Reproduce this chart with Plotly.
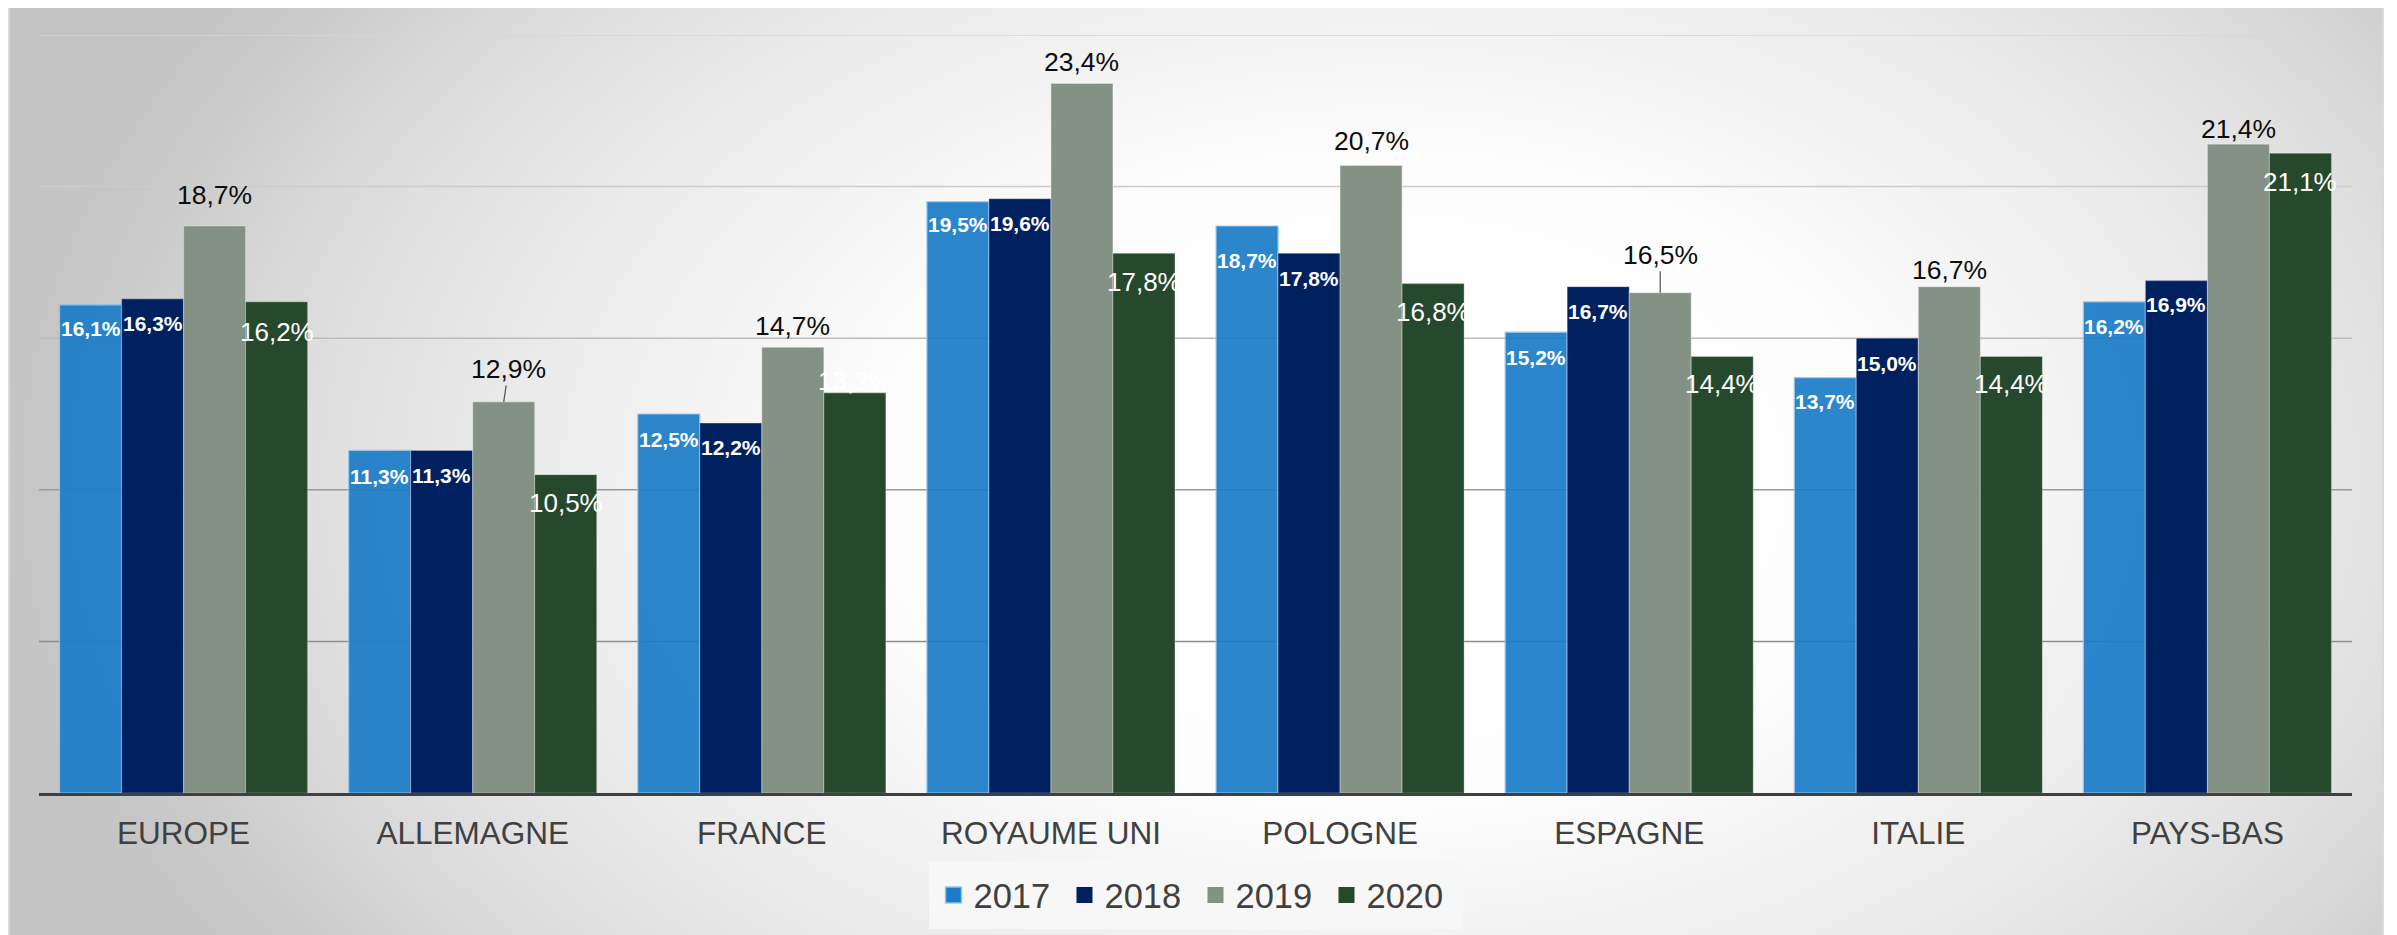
import base64
import plotly.graph_objects as go

# ---------------- data ----------------
categories = ["EUROPE", "ALLEMAGNE", "FRANCE", "ROYAUME UNI", "POLOGNE", "ESPAGNE", "ITALIE", "PAYS-BAS"]
series_names = ["2017", "2018", "2019", "2020"]
v2017 = [16.1, 11.3, 12.5, 19.5, 18.7, 15.2, 13.7, 16.2]
v2018 = [16.3, 11.3, 12.2, 19.6, 17.8, 16.7, 15.0, 16.9]
v2019 = [18.7, 12.9, 14.7, 23.4, 20.7, 16.5, 16.7, 21.4]
v2020 = [16.2, 10.5, 13.2, 17.8, 16.8, 14.4, 14.4, 21.1]
grid_values = [5, 10, 15, 20, 25]

# ---------------- styles ----------------
colors = ["#1a7cc8", "#00205f", "#839284", "#26482c"]
opacities = [0.92, 1, 1, 1]
edge_colors = ["rgba(150,195,235,0.95)", "rgba(255,255,255,0.25)",
               "rgba(255,255,255,0.3)", "rgba(255,255,255,0.25)"]
grid_colors = ["#8e8e8e", "#999999", "#bbbbbb", "#cccccc", "#d6d6d6"]
# label vertical offsets (px, + = above the bar top)
label_shift = [
    [-24, -26, -25, -23, -34, -25, -24, -25],
    [-25, -25, -24, -25, -25, -25, -25, -24],
    [31, 33, 21, 22, 24, 38, 17, 15],
    [-30, -28, 12, -29, -28, -28, -28, -29],
]
leader = [False, True, False, False, False, True, False, False]
leader_dx = [0, 5, 0, 0, 0, 0, 0, 0]
FONT = "Liberation Sans, Arial, sans-serif"

# page is offset by the browser's default 8px body margin
OFF = 8
PAGE_W, PAGE_H = 2397, 935
W, H = PAGE_W - OFF, PAGE_H - OFF
# plot area in page coordinates: x 39..2352, y 35..793
L, T = 39 - OFF, 35 - OFF
R, B = W - (2352 - OFF), H - (793 - OFF)
pw, ph = W - L - R, H - T - B
bargap = 0.142
bw = (1 - bargap) / 4

values = [v2017, v2018, v2019, v2020]
xs = list(range(len(categories)))

fig = go.Figure()
for k, name in enumerate(series_names):
    fig.add_trace(go.Bar(
        x=xs, y=values[k], name=name, showlegend=False,
        marker=dict(color=colors[k], opacity=opacities[k],
                    line=dict(color=edge_colors[k], width=1.2)),
        hoverinfo="skip",
    ))
# legend entries (square markers)
for k, name in enumerate(series_names):
    fig.add_trace(go.Scatter(
        x=[None], y=[None], name=name, mode="markers",
        marker=dict(symbol="square", size=17, color=colors[k],
                    line=dict(color=edge_colors[k] if k == 0 else colors[k], width=1.5 if k == 0 else 0)),
    ))

def fmt(v):
    return f"{v:.1f}%".replace(".", ",")

annotations = []
for k in range(4):
    off = (k - 1.5) * bw
    for i, v in enumerate(values[k]):
        x = i + off
        if k in (0, 1):
            font = dict(family=FONT, size=21, color="white", weight="bold")
        elif k == 2:
            font = dict(family=FONT, size=26.5, color="#0d0d0d")
        else:
            font = dict(family=FONT, size=26, color="white")
        if k == 2 and leader[i]:
            annotations.append(dict(
                x=x, y=v, xref="x", yref="y", text=fmt(v), font=font,
                showarrow=True, arrowhead=0, arrowwidth=1.2, arrowcolor="#505050",
                ax=leader_dx[i], ay=-label_shift[k][i], standoff=0, startstandoff=0,
            ))
        else:
            annotations.append(dict(
                x=x, y=v, xref="x", yref="y", text=fmt(v), font=font,
                showarrow=False, yshift=label_shift[k][i], xanchor="center", yanchor="middle",
            ))

shapes = []
for gv, gc in zip(grid_values, grid_colors):
    shapes.append(dict(type="line", xref="paper", x0=0, x1=1, yref="y", y0=gv, y1=gv,
                       line=dict(color=gc, width=1.5), layer="below"))

# background panel with radial gradient (figure coordinates)
cx, cy = 1380 - OFF, 480 - OFF
svg = f"""<svg xmlns='http://www.w3.org/2000/svg' width='{W}' height='{H}' viewBox='0 0 {W} {H}' preserveAspectRatio='none'>
<defs><radialGradient id='g' gradientUnits='userSpaceOnUse' cx='{cx}' cy='{cy}' r='1400'
 gradientTransform='translate({cx} {cy}) scale(1 0.65) translate({-cx} {-cy})'>
<stop offset='0' stop-color='#ffffff'/>
<stop offset='0.35' stop-color='#fdfdfd'/>
<stop offset='0.57' stop-color='#eeeeee'/>
<stop offset='0.76' stop-color='#dfdfdf'/>
<stop offset='0.95' stop-color='#c7c7c7'/>
<stop offset='1' stop-color='#c4c4c4'/>
</radialGradient></defs>
<rect width='{W}' height='{H}' fill='#ffffff'/>
<rect x='{9 - OFF}' y='-3' width='2374' height='{H + 10}' fill='url(#g)' stroke='#dadada' stroke-width='2'/>
</svg>"""
src = "data:image/svg+xml;base64," + base64.b64encode(svg.encode()).decode()

fig.update_layout(
    width=W, height=H, autosize=False,
    margin=dict(l=L, r=R, t=T, b=B, pad=0, autoexpand=False),
    paper_bgcolor="white", plot_bgcolor="rgba(0,0,0,0)",
    barmode="group", bargap=bargap, bargroupgap=0,
    font=dict(family=FONT, color="#404040"),
    images=[dict(source=src, xref="paper", yref="paper",
                 x=-L / pw, y=(ph + T) / ph, sizex=W / pw, sizey=H / ph,
                 xanchor="left", yanchor="top", sizing="stretch", layer="below")],
    shapes=shapes,
    annotations=annotations,
    legend=dict(orientation="h", x=0.5, xanchor="center", y=-((861 - OFF) - (T + ph)) / ph, yanchor="top",
                bgcolor="#f7f7f7", bordercolor="#f7f7f7", borderwidth=5,
                font=dict(family=FONT, size=34.5, color="#404040"),
                entrywidth=86, itemclick=False, itemdoubleclick=False),
    xaxis=dict(range=[-0.5, len(categories) - 0.5], tickmode="array", tickvals=xs, ticktext=categories,
               showgrid=False, zeroline=False, showline=True, linecolor="#404040", linewidth=3,
               ticks="", tickfont=dict(family=FONT, size=31.5, color="#404040"), ticklabelstandoff=10,
               fixedrange=True),
    yaxis=dict(range=[0, 25], showgrid=False, zeroline=False, showticklabels=False, showline=False,
               fixedrange=True),
    hovermode=False,
)

fig.write_html("out.html")
